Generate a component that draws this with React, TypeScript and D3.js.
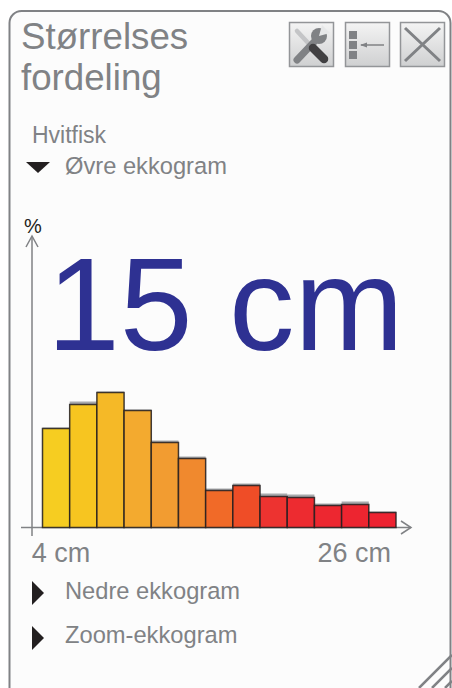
import React, { useRef, useEffect } from "react";
import * as d3 from "d3";

// size classes in cm, one bar per class
const sizeClasses = [4, 6, 8, 10, 12, 14, 16, 18, 20, 22, 24, 26, 28];
const upperEcho = [99, 123, 135, 117, 85, 69, 37, 42, 31, 30, 22, 23, 15];
// grey layer just behind the bars
const shadowEcho = [99, 125, 135, 117, 86, 70, 38, 43, 33, 32, 23, 25, 15];
const barColors = [
  "#f6cd21", "#f7c520", "#f5b927", "#f3aa2f", "#f29c31", "#f0892e", "#f16a28",
  "#ef4d27", "#ed3330", "#ed2b30", "#ed2730", "#ed2530", "#ed2230",
];
const xTicks = [4, 26];
const titleLines = ["Størrelses", "fordeling"];
const species = "Hvitfisk";
const menuItems = ["Øvre ekkogram", "Nedre ekkogram", "Zoom-ekkogram"];
const bigLabel = "15 cm";

const GREY = "#808285";
const FONT = "'Liberation Sans', Arial, sans-serif";

function App() {
  const axisRef = useRef<SVGGElement>(null);

  const x = d3.scaleBand<number>()
    .domain(sizeClasses)
    .range([42.5, 396])
    .padding(0);

  const y = d3.scaleLinear()
    .domain([0, 135])
    .range([527.5, 392.5]);

  useEffect(() => {
    const g = d3.select(axisRef.current);
    g.selectAll("*").remove();
    g.call(
      d3.axisBottom(x)
        .tickValues(xTicks)
        .tickSize(0)
        .tickPadding(15)
        .tickFormat(d => `${d} cm`) as any
    );
    g.select(".domain").remove();
    g.selectAll("text")
      .attr("font-family", FONT)
      .attr("font-size", 27)
      .attr("fill", GREY)
      .attr("dx", (d: any) => (d === 4 ? 5 : -1))
      .attr("dy", "0.71em");
  }, []);

  const button = (bx: number, icon: React.ReactNode) => (
    <g transform={`translate(${bx},22)`}>
      <rect x={0.5} y={0.5} width={44} height={44} fill="url(#btn)" stroke="#939598" strokeWidth={1.5} />
      {icon}
    </g>
  );

  return (
    <svg width={452} height={688} style={{ position: "absolute", left: 0, top: 0 }} fontFamily={FONT}>
      <defs>
        <linearGradient id="btn" x1="0" y1="0" x2="0" y2="1">
          <stop offset="0" stopColor="#f4f4f4" />
          <stop offset="1" stopColor="#cfd0d1" />
        </linearGradient>
      </defs>

      {/* panel */}
      <rect x={0} y={0} width={452} height={688} fill="#fff" />
      <rect x={9.5} y={11} width={441} height={690} rx={12} fill="#fcfcfc" stroke={GREY} strokeWidth={2} />

      {/* title */}
      {titleLines.map((t, i) => (
        <text key={t} x={21} y={49 + i * 41} fontSize={36.7} fill={GREY}>{t}</text>
      ))}

      {/* buttons */}
      {button(289, (
        <g strokeLinecap="round">
          <line x1={8} y1={9} x2={21} y2={23} stroke="#c4c5c7" strokeWidth={4.5} />
          <line x1={8} y1={38} x2={25} y2={20} stroke="#808285" strokeWidth={7} />
          <circle cx={30} cy={14} r={8} fill="#808285" />
          <path d="M30,14 L33,3 L41,11 Z" fill="#e6e7e8" />
          <line x1={24} y1={26} x2={35} y2={37} stroke="#414042" strokeWidth={8.5} />
        </g>
      ))}
      {button(345, (
        <g fill="#808285">
          <rect x={4} y={9} width={8} height={8} />
          <rect x={4} y={19} width={8} height={8} />
          <rect x={4} y={29} width={8} height={8} />
          <line x1={16} y1={23} x2={39} y2={23} stroke="#808285" strokeWidth={1.5} />
          <path d="M15,23 L22,20.5 L22,25.5 Z" />
        </g>
      ))}
      {button(400, (
        <path d="M5,6 L40,39 M40,6 L5,39" stroke="#808285" strokeWidth={3} fill="none" />
      ))}

      {/* species and menu */}
      <text x={32} y={143} fontSize={23} fill={GREY}>{species}</text>
      <path d="M26,162 L50,162 L38,173 Z" fill="#231f20" />
      <text x={65} y={174} fontSize={23.7} fill={GREY}>{menuItems[0]}</text>

      {/* big readout */}
      <text x={47} y={350} fontSize={131} fill="#2e3192">{bigLabel}</text>

      {/* y axis */}
      <text x={24} y={233} fontSize={20} fill="#231f20">%</text>
      <line x1={32} y1={237} x2={32} y2={536} stroke={GREY} strokeWidth={1.5} />
      <path d="M26,247 L32,236 L38,247" fill="none" stroke={GREY} strokeWidth={1.5} />

      {/* x axis */}
      <line x1={21} y1={527.5} x2={411} y2={527.5} stroke={GREY} strokeWidth={1.5} />
      <path d="M401,521 L411,527.5 L401,534" fill="none" stroke={GREY} strokeWidth={1.5} />

      {/* bars */}
      <g>
        {sizeClasses.map((c, i) => (
          <rect
            key={c}
            x={x(c)}
            y={y(shadowEcho[i]) - 1}
            width={x.bandwidth()}
            height={y(0) - y(shadowEcho[i]) + 1}
            fill="#a7a9ac"
          />
        ))}
        {sizeClasses.map((c, i) => (
          <rect
            key={c}
            x={x(c)}
            y={y(upperEcho[i])}
            width={x.bandwidth()}
            height={y(0) - y(upperEcho[i])}
            fill={barColors[i]}
            stroke="#231f20"
            strokeWidth={1.5}
            strokeOpacity={0.85}
          />
        ))}
      </g>

      <g ref={axisRef} transform="translate(0,527.5)" />

      {/* collapsed menu items */}
      <path d="M32,581 L44,593 L32,605 Z" fill="#231f20" />
      <text x={65} y={599} fontSize={23.7} fill={GREY}>{menuItems[1]}</text>
      <path d="M32,626 L44,638 L32,650 Z" fill="#231f20" />
      <text x={65} y={643} fontSize={23.7} fill={GREY}>{menuItems[2]}</text>

      {/* resize grip */}
      <path d="M419,688 L452,655 M432,688 L452,668 M445,688 L452,681" stroke={GREY} strokeWidth={2.5} fill="none" />
    </svg>
  );
}

export default App;
